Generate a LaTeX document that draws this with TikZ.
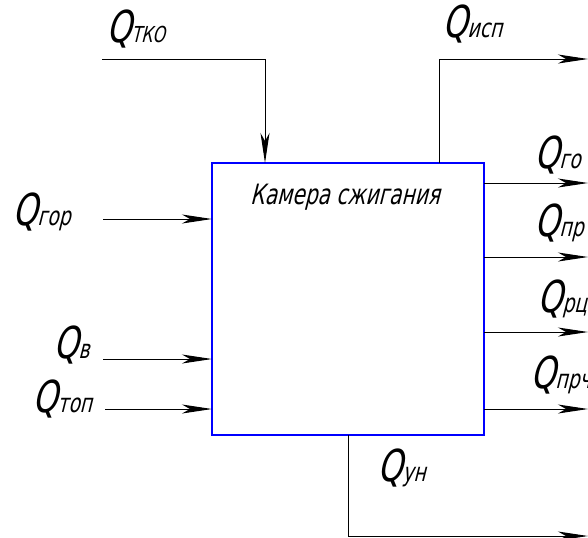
\documentclass[tikz,border=0pt]{standalone}
\usepackage{fontspec}
\newfontfamily\gost{DejaVu Sans}[FakeSlant=0.25,FakeStretch=0.72]
\usetikzlibrary{arrows.meta}
\newcommand{\Qsub}[1]{{\fontsize{22}{22}\selectfont Q}{\fontsize{13}{13}\selectfont #1}}
\tikzset{
  flow/.style={draw=black, line width=0.5pt, -{Stealth[length=15pt,width=4.5pt,inset=4pt]}},
  qlab/.style={anchor=base west, inner sep=0pt, font=\gost},
}
\begin{document}
\begin{tikzpicture}[x=0.5pt, y=-0.5pt]
  \useasboundingbox (0,0) rectangle (588,537);

  % камера сжигания
  \node[draw=blue, line width=1pt, minimum width=136pt, minimum height=136pt,
        inner sep=0pt, outer sep=0pt, anchor=north west] (kamera) at (212,163) {};
  \node[font=\gost\fontsize{14}{14}\selectfont, inner sep=0pt] (kameraname) at (345,197) {Камера сжигания};

  % входы
  \coordinate (tkoA) at (102,59);
  \coordinate (tkoB) at (265,163);
  \draw[flow] (tkoA) -| (tkoB);
  \node[qlab] (tko) at (106,42) {{\fontsize{22}{22}\selectfont Q}{\fontsize{11}{11}\selectfont ТКО}};

  \coordinate (gorA) at (103,219);
  \coordinate (gorB) at (212,219);
  \draw[flow] (gorA) -- (gorB);
  \node[qlab] (gor) at (12,225) {\Qsub{гор}};

  \coordinate (vA) at (103,359);
  \coordinate (vB) at (212,359);
  \draw[flow] (vA) -- (vB);
  \node[qlab] (v) at (53,358) {\Qsub{в}};

  \coordinate (topA) at (105,409);
  \coordinate (topB) at (212,409);
  \draw[flow] (topA) -- (topB);
  \node[qlab] (top) at (32,412) {\Qsub{топ}};

  % выходы
  \coordinate (ispA) at (439,163);
  \coordinate (ispB) at (588,59);
  \draw[flow] (ispA) |- (ispB);
  \node[qlab] (isp) at (442,37) {\Qsub{исп}};

  \coordinate (goA) at (484,183);
  \coordinate (goB) at (588,183);
  \draw[flow] (goA) -- (goB);
  \node[qlab] (go) at (534,168) {\Qsub{го}};

  \coordinate (prA) at (484,257);
  \coordinate (prB) at (588,257);
  \draw[flow] (prA) -- (prB);
  \node[qlab] (pr) at (534,236) {\Qsub{пр}};

  \coordinate (rcA) at (484,332);
  \coordinate (rcB) at (588,332);
  \draw[flow] (rcA) -- (rcB);
  \node[qlab] (rc) at (537,312) {\Qsub{рц}};

  \coordinate (prchA) at (484,409);
  \coordinate (prchB) at (588,409);
  \draw[flow] (prchA) -- (prchB);
  \node[qlab] (prch) at (530,388) {\Qsub{прч}};

  \coordinate (unA) at (348,435);
  \coordinate (unB) at (588,536);
  \draw[flow] (unA) |- (unB);
  \node[qlab] (un) at (377,481) {\Qsub{ун}};
\end{tikzpicture}
\end{document}
